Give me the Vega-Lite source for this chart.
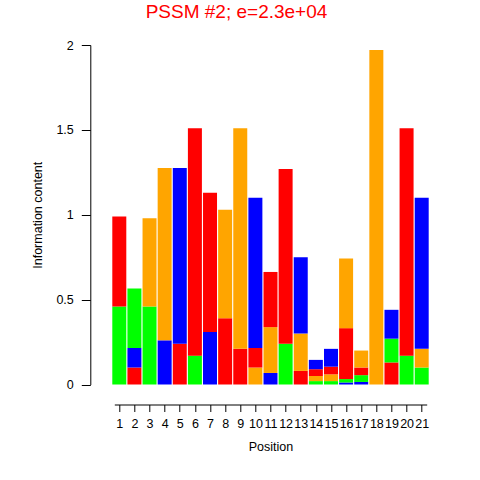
{
  "$schema": "https://vega.github.io/schema/vega-lite/v6.json",
  "width": 312.4,
  "height": 339.5,
  "autosize": {"type": "none"},
  "padding": {"left": 114.3, "top": 45, "right": 53.3, "bottom": 95.5},
  "background": "white",
  "title": {"text": "PSSM #2; e=2.3e+04", "color": "#FF0000", "fontSize": 19, "fontWeight": "normal", "font": "Liberation Sans", "anchor": "middle", "dx": -34, "offset": 17},
  "config": {"view": {"stroke": null}, "font": "Liberation Sans"},
  "data": {"values": [
    {"pos": 1, "letter": "A", "bits": 0.46}, {"pos": 1, "letter": "T", "bits": 0.53},
    {"pos": 2, "letter": "T", "bits": 0.10}, {"pos": 2, "letter": "C", "bits": 0.115}, {"pos": 2, "letter": "A", "bits": 0.35},
    {"pos": 3, "letter": "A", "bits": 0.46}, {"pos": 3, "letter": "G", "bits": 0.52},
    {"pos": 4, "letter": "C", "bits": 0.26}, {"pos": 4, "letter": "G", "bits": 1.015},
    {"pos": 5, "letter": "T", "bits": 0.24}, {"pos": 5, "letter": "C", "bits": 1.035},
    {"pos": 6, "letter": "A", "bits": 0.17}, {"pos": 6, "letter": "T", "bits": 1.34},
    {"pos": 7, "letter": "C", "bits": 0.31}, {"pos": 7, "letter": "T", "bits": 0.82},
    {"pos": 8, "letter": "T", "bits": 0.39}, {"pos": 8, "letter": "G", "bits": 0.64},
    {"pos": 9, "letter": "T", "bits": 0.21}, {"pos": 9, "letter": "G", "bits": 1.30},
    {"pos": 10, "letter": "G", "bits": 0.10}, {"pos": 10, "letter": "T", "bits": 0.115}, {"pos": 10, "letter": "C", "bits": 0.885},
    {"pos": 11, "letter": "C", "bits": 0.068}, {"pos": 11, "letter": "G", "bits": 0.27}, {"pos": 11, "letter": "T", "bits": 0.325},
    {"pos": 12, "letter": "A", "bits": 0.24}, {"pos": 12, "letter": "T", "bits": 1.03},
    {"pos": 13, "letter": "T", "bits": 0.08}, {"pos": 13, "letter": "G", "bits": 0.22}, {"pos": 13, "letter": "C", "bits": 0.45},
    {"pos": 14, "letter": "A", "bits": 0.02}, {"pos": 14, "letter": "G", "bits": 0.03}, {"pos": 14, "letter": "T", "bits": 0.04}, {"pos": 14, "letter": "C", "bits": 0.055},
    {"pos": 15, "letter": "A", "bits": 0.02}, {"pos": 15, "letter": "G", "bits": 0.04}, {"pos": 15, "letter": "T", "bits": 0.045}, {"pos": 15, "letter": "C", "bits": 0.105},
    {"pos": 16, "letter": "C", "bits": 0.012}, {"pos": 16, "letter": "A", "bits": 0.02}, {"pos": 16, "letter": "T", "bits": 0.30}, {"pos": 16, "letter": "G", "bits": 0.41},
    {"pos": 17, "letter": "C", "bits": 0.015}, {"pos": 17, "letter": "A", "bits": 0.04}, {"pos": 17, "letter": "T", "bits": 0.045}, {"pos": 17, "letter": "G", "bits": 0.10},
    {"pos": 18, "letter": "G", "bits": 1.97},
    {"pos": 19, "letter": "T", "bits": 0.13}, {"pos": 19, "letter": "A", "bits": 0.14}, {"pos": 19, "letter": "C", "bits": 0.17},
    {"pos": 20, "letter": "A", "bits": 0.17}, {"pos": 20, "letter": "T", "bits": 1.34},
    {"pos": 21, "letter": "A", "bits": 0.10}, {"pos": 21, "letter": "G", "bits": 0.11}, {"pos": 21, "letter": "C", "bits": 0.89}
  ]},
  "mark": {"type": "bar", "width": 14, "clip": false},
  "encoding": {
    "x": {
      "field": "pos", "type": "quantitative",
      "scale": {"domain": [1, 21], "nice": false, "zero": false},
      "axis": {
        "values": [1,2,3,4,5,6,7,8,9,10,11,12,13,14,15,16,17,18,19,20,21],
        "format": "d", "grid": false, "offset": 20, "tickSize": 7,
        "domainColor": "#000000", "tickColor": "#000000", "domainWidth": 1, "tickWidth": 1,
        "labelFontSize": 12.5, "labelColor": "#000000", "labelPadding": 6, "labelFlush": false, "labelOverlap": false,
        "title": "Position", "titleFontSize": 12.5, "titleFontWeight": "normal", "titleColor": "#000000", "titlePadding": 10.5
      }
    },
    "y": {
      "field": "bits", "type": "quantitative", "stack": "zero",
      "scale": {"domain": [0, 2], "nice": false},
      "axis": {
        "values": [0, 0.5, 1, 1.5, 2], "format": ".1~f", "grid": false, "offset": 24, "tickSize": 9,
        "domainColor": "#000000", "tickColor": "#000000",
        "labelFontSize": 12.5, "labelColor": "#000000", "labelPadding": 8, "labelAngle": 0,
        "title": "Information content", "titleFontSize": 12.5, "titleFontWeight": "normal", "titleColor": "#000000", "titlePadding": 11
      }
    },
    "color": {
      "field": "letter", "type": "nominal",
      "scale": {"domain": ["A", "C", "G", "T"], "range": ["#00FF00", "#0000FF", "#FFA500", "#FF0000"]},
      "legend": null
    },
    "order": {"field": "bits", "sort": "ascending"}
  }
}
